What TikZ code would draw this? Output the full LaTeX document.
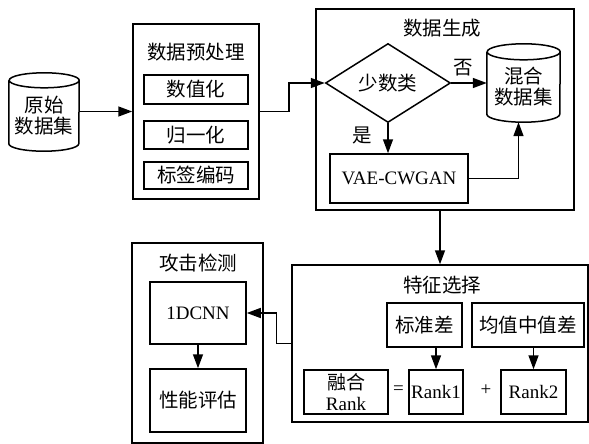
\documentclass[tikz,border=0pt]{standalone}
\usepackage{fontspec}
\setmainfont{Liberation Serif}
\newfontfamily\cjk{Noto Sans CJK SC}
\usetikzlibrary{arrows.meta,shapes.geometric,calc}
\tikzset{
  lat/.style={font=\fontsize{19}{21}\selectfont},
  cn/.style={font=\cjk\fontsize{19.5}{21}\selectfont},
  box/.style={draw,line width=1.5pt,rectangle,inner sep=0pt,align=center},
  body/.style={rectangle,inner sep=0pt,align=center},
  arr/.style={line width=1.5pt,-{Triangle[length=14pt,width=10pt]}},
  ln/.style={line width=1.5pt},
}
\begin{document}
\begin{tikzpicture}[x=1pt,y=-1pt]
\useasboundingbox (0,0) rectangle (589,444);
% ---- raw data cylinder
\node[body,cn,minimum width=70pt,minimum height=70.5pt] (raw) at (44,115.75) {原始\\数据集};
\draw[ln] (raw.north west) -- ($(raw.south west)+(0,-7.5)$)
  arc[start angle=180,end angle=360,x radius=35pt,y radius=7.5pt]
  -- (raw.north east) arc[start angle=0,end angle=360,x radius=35pt,y radius=7.5pt];
% ---- preprocessing
\node[box,minimum width=126pt,minimum height=175pt] (pre) at (196,111.5) {};
\node[cn] (pretitle) at (196,52) {数据预处理};
\node[box,cn,minimum width=104pt,minimum height=29pt] (num) at (196,89.5) {数值化};
\node[box,cn,minimum width=104pt,minimum height=28pt] (norm) at (196,135) {归一化};
\node[box,cn,minimum width=104pt,minimum height=27pt] (enc) at (196,175.5) {标签编码};
% ---- data generation
\node[box,minimum width=258pt,minimum height=201pt] (gen) at (445,109.5) {};
\node[cn] (gentitle) at (442,28) {数据生成};
\node[draw,diamond,line width=1.5pt,cn,inner sep=0pt,minimum width=125pt,minimum height=79pt] (dia) at (388,83) {少数类};
\node[body,cn,minimum width=73pt,minimum height=70pt] (mix) at (523.5,87) {混合\\数据集};
\draw[ln] (mix.north west) -- ($(mix.south west)+(0,-8)$)
  arc[start angle=180,end angle=360,x radius=36.5pt,y radius=8pt]
  -- (mix.north east) arc[start angle=0,end angle=360,x radius=36.5pt,y radius=8pt];
\node[box,lat,minimum width=138pt,minimum height=49pt] (vae) at (399,178.5) {VAE-CWGAN};
\node[cn] (no) at (463,68) {否};
\node[cn] (yes) at (362,135) {是};
% ---- feature selection
\node[box,minimum width=296pt,minimum height=157pt] (feat) at (440,343.5) {};
\node[cn] (feattitle) at (442,285) {特征选择};
\node[box,cn,minimum width=75pt,minimum height=44pt] (std) at (424.5,325) {标准差};
\node[box,cn,minimum width=112pt,minimum height=44pt] (mean) at (528,325) {均值中值差};
\node[box,lat,minimum width=84pt,minimum height=44pt] (fuse) at (346,392) {{\cjk 融合}\\Rank};
\node[box,lat,minimum width=54pt,minimum height=44pt] (r1) at (436,392) {Rank1};
\node[box,lat,minimum width=65pt,minimum height=44pt] (r2) at (533.5,392) {Rank2};
\node[lat] (eq) at (398.5,390) {=};
\node[lat] (plus) at (486,390) {+};
% ---- attack detection
\node[box,minimum width=131pt,minimum height=200pt] (att) at (197.5,343) {};
\node[cn] (atttitle) at (198,263) {攻击检测};
\node[box,lat,minimum width=96pt,minimum height=62pt] (cnn) at (198,313) {1DCNN};
\node[box,cn,minimum width=96pt,minimum height=63pt] (perf) at (198,400.5) {性能评估};
% ---- connectors
\draw[arr] (raw.east |- pre.west) -- (pre.west);
\draw[arr] (pre.east) -- ++(29,0) |- (dia.west);
\draw[arr] (dia.east) -- (mix.west |- dia.east);
\draw[arr] (dia.south) -- (dia.south |- vae.north);
\draw[arr] (vae.east) -| ($(mix.south)+(-5,0)$);
\draw[arr] (gen.south -| feat.north) -- (feat.north);
\draw[arr] (std.south -| r1.north) -- (r1.north);
\draw[arr] (mean.south -| r2.north) -- (r2.north);
\draw[arr] (feat.west) -- ++(-15,0) |- (cnn.east);
\draw[arr] (cnn.south) -- (perf.north);
\end{tikzpicture}
\end{document}
